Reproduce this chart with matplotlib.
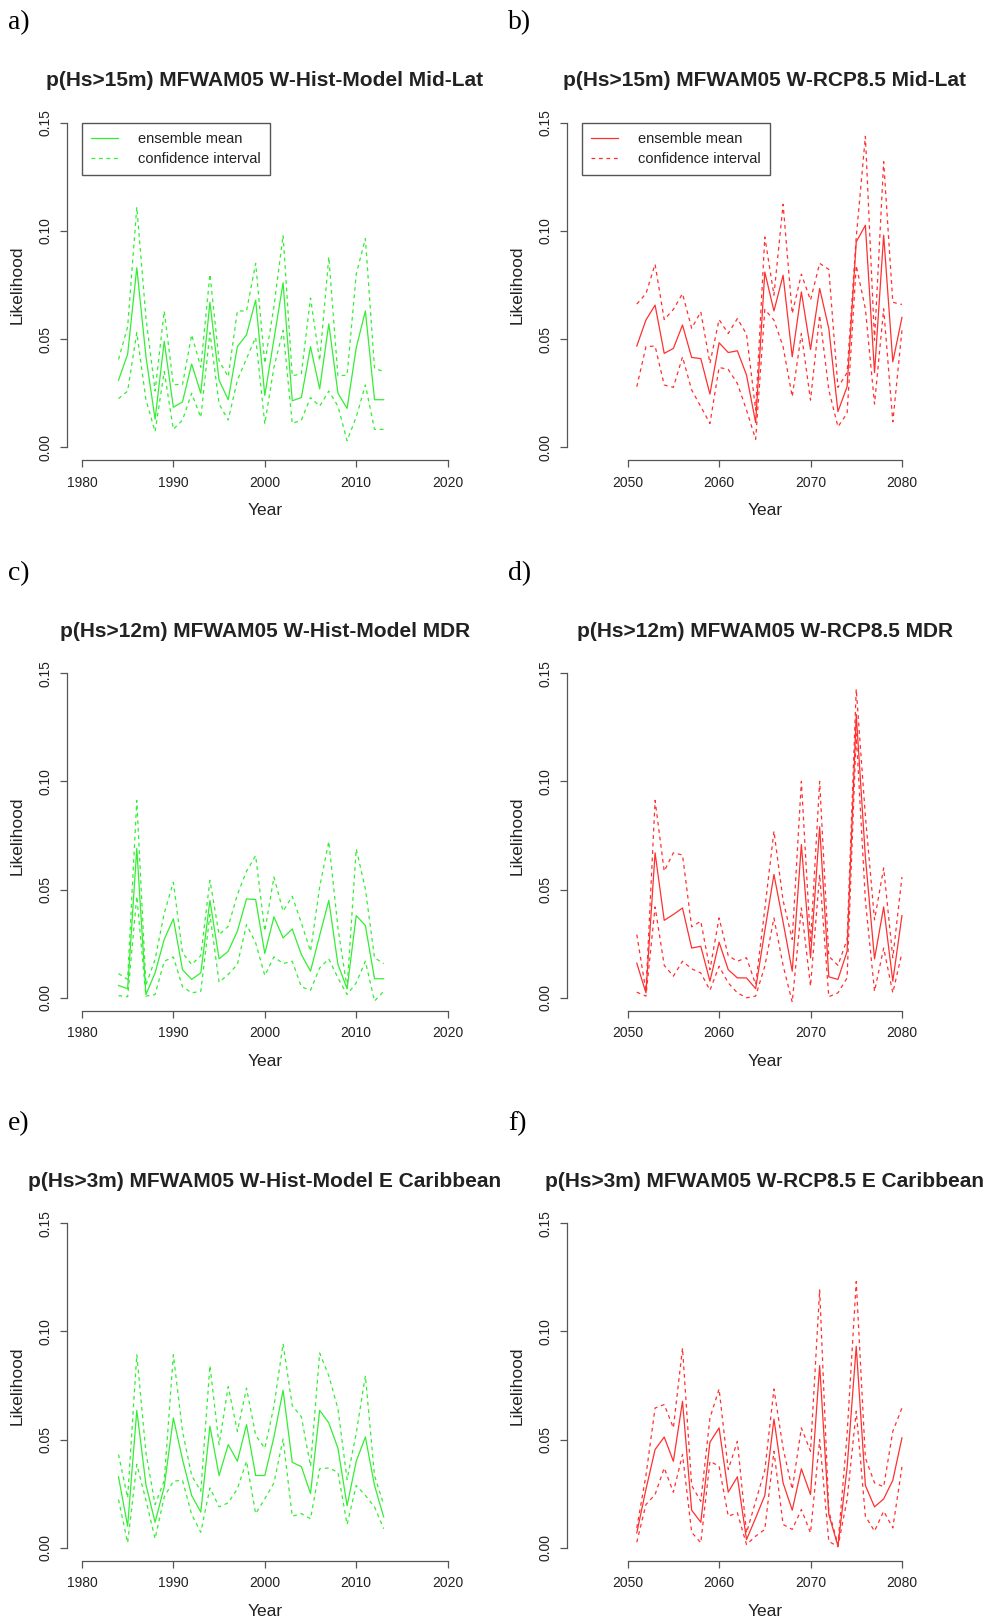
import matplotlib
matplotlib.use("Agg")
import matplotlib.pyplot as plt

plt.rcParams["font.family"] = ["Liberation Sans", "DejaVu Sans"]

# years on the x axis
years_hist = list(range(1984, 2014))
years_rcp = list(range(2051, 2081))

# a) Hs>15m, historical, Mid-Lat
mean_a = [0.031, 0.043, 0.083, 0.042, 0.013, 0.049, 0.0185, 0.021, 0.0385, 0.025,
          0.067, 0.031, 0.022, 0.0465, 0.052, 0.068, 0.024, 0.050, 0.076, 0.0215,
          0.023, 0.0465, 0.027, 0.057, 0.025, 0.018, 0.046, 0.063, 0.022, 0.022]
upper_a = [0.0406, 0.0557, 0.111, 0.060, 0.026, 0.063, 0.029, 0.029, 0.052, 0.037,
           0.080, 0.040, 0.0326, 0.063, 0.063, 0.085, 0.0388, 0.065, 0.098, 0.033,
           0.034, 0.069, 0.040, 0.088, 0.033, 0.0334, 0.080, 0.0965, 0.0365, 0.035]
lower_a = [0.0225, 0.026, 0.053, 0.022, 0.0072, 0.035, 0.0083, 0.0126, 0.025, 0.0138,
           0.053, 0.020, 0.0126, 0.031, 0.041, 0.0508, 0.0108, 0.037, 0.054, 0.011,
           0.0126, 0.023, 0.019, 0.026, 0.019, 0.003, 0.014, 0.0288, 0.0083, 0.0083]

# b) Hs>15m, RCP8.5, Mid-Lat
mean_b = [0.0468, 0.0588, 0.0657, 0.0434, 0.0457, 0.0565, 0.0415, 0.041, 0.0246, 0.0483,
          0.0438, 0.0446, 0.0334, 0.0114, 0.081, 0.063, 0.0795, 0.0418, 0.0718, 0.0452,
          0.0734, 0.0549, 0.0165, 0.028, 0.0949, 0.1026, 0.0345, 0.098, 0.0395, 0.060]
upper_b = [0.0662, 0.071, 0.0846, 0.059, 0.0637, 0.071, 0.055, 0.0626, 0.0388, 0.059,
           0.0526, 0.0595, 0.0523, 0.0172, 0.0972, 0.0703, 0.1123, 0.0618, 0.080, 0.068,
           0.085, 0.0822, 0.0277, 0.0345, 0.097, 0.1437, 0.0495, 0.132, 0.067, 0.066]
lower_b = [0.028, 0.0465, 0.0468, 0.0288, 0.0277, 0.0418, 0.0265, 0.0188, 0.011, 0.0369,
           0.036, 0.0295, 0.0172, 0.0037, 0.0637, 0.0588, 0.0465, 0.0234, 0.0526, 0.0218,
           0.061, 0.0265, 0.0095, 0.0157, 0.084, 0.064, 0.020, 0.064, 0.0118, 0.054]

# c) Hs>12m, historical, MDR
mean_c = [0.0057, 0.0042, 0.069, 0.0015, 0.0115, 0.027, 0.0365, 0.013, 0.0085, 0.0115,
          0.045, 0.018, 0.0215, 0.0308, 0.0457, 0.0454, 0.0205, 0.0374, 0.0277, 0.0318,
          0.020, 0.0123, 0.0288, 0.045, 0.0154, 0.0042, 0.038, 0.0334, 0.0088, 0.0088]
upper_c = [0.0112, 0.0085, 0.0912, 0.006, 0.0177, 0.039, 0.0534, 0.0208, 0.0154, 0.0195,
           0.0543, 0.0292, 0.033, 0.0477, 0.0585, 0.0657, 0.0308, 0.0558, 0.040, 0.0469,
           0.0346, 0.0215, 0.0512, 0.0723, 0.0323, 0.0046, 0.0688, 0.0503, 0.0185, 0.0158]
lower_c = [0.001, 0.0005, 0.0469, 0.0008, 0.0015, 0.0169, 0.0189, 0.0051, 0.0023, 0.003,
           0.0385, 0.0072, 0.0108, 0.0154, 0.0338, 0.0254, 0.0103, 0.0189, 0.0158, 0.0169,
           0.0051, 0.0035, 0.0138, 0.018, 0.0092, 0.0015, 0.0069, 0.0169, -0.0015, 0.003]

# d) Hs>12m, RCP8.5, MDR
mean_d = [0.016, 0.0023, 0.067, 0.0358, 0.0385, 0.0415, 0.023, 0.0238, 0.0077, 0.0257,
          0.013, 0.0092, 0.0092, 0.0042, 0.031, 0.057, 0.035, 0.0123, 0.0708, 0.0185,
          0.079, 0.0097, 0.0085, 0.0215, 0.131, 0.065, 0.018, 0.042, 0.0077, 0.038]
upper_d = [0.0292, 0.003, 0.0912, 0.0585, 0.067, 0.066, 0.0328, 0.0354, 0.013, 0.0369,
           0.0195, 0.0169, 0.0185, 0.0062, 0.041, 0.077, 0.045, 0.027, 0.100, 0.0254,
           0.100, 0.0192, 0.015, 0.027, 0.1426, 0.084, 0.036, 0.060, 0.0185, 0.0558]
lower_d = [0.0026, 0.0008, 0.042, 0.015, 0.010, 0.0169, 0.0134, 0.0115, 0.0035, 0.0146,
           0.0069, 0.0023, 0.0, 0.0008, 0.0146, 0.0369, 0.015, -0.002, 0.0415, 0.0054,
           0.057, 0.0005, 0.0023, 0.0092, 0.122, 0.045, 0.003, 0.023, 0.0023, 0.0208]

# e) Hs>3m, historical, E Caribbean
mean_e = [0.0328, 0.010, 0.0635, 0.0292, 0.0118, 0.0282, 0.060, 0.0408, 0.0242, 0.0165,
          0.0562, 0.0334, 0.0477, 0.040, 0.0569, 0.0334, 0.0334, 0.0512, 0.0728, 0.0395,
          0.0375, 0.0251, 0.0635, 0.0577, 0.046, 0.0195, 0.040, 0.0512, 0.0288, 0.0143]
upper_e = [0.0431, 0.0231, 0.0892, 0.044, 0.020, 0.031, 0.0892, 0.0538, 0.0334, 0.0262,
           0.0842, 0.0477, 0.0745, 0.0538, 0.0738, 0.052, 0.046, 0.0654, 0.0943, 0.0657,
           0.0605, 0.0377, 0.090, 0.0795, 0.0642, 0.0315, 0.053, 0.0795, 0.0334, 0.020]
lower_e = [0.0223, 0.0023, 0.0385, 0.022, 0.0042, 0.0235, 0.0308, 0.0312, 0.0154, 0.0072,
           0.0277, 0.0189, 0.0208, 0.0272, 0.040, 0.0158, 0.0226, 0.030, 0.0503, 0.0146,
           0.0158, 0.0134, 0.0365, 0.0369, 0.0349, 0.0108, 0.0288, 0.0242, 0.0189, 0.0088]

# f) Hs>3m, RCP8.5, E Caribbean
mean_f = [0.0069, 0.027, 0.0454, 0.0512, 0.040, 0.0677, 0.0174, 0.0118, 0.0488, 0.0554,
          0.0257, 0.0328, 0.0038, 0.0138, 0.0242, 0.0595, 0.030, 0.0174, 0.0365, 0.0246,
          0.0842, 0.0154, 0.0008, 0.037, 0.0931, 0.0288, 0.0189, 0.0226, 0.0312, 0.0508]
upper_f = [0.0092, 0.0334, 0.0646, 0.0662, 0.0554, 0.0923, 0.0288, 0.0215, 0.060, 0.0734,
           0.0362, 0.0492, 0.0069, 0.0215, 0.0358, 0.0734, 0.046, 0.027, 0.0554, 0.0446,
           0.1192, 0.0169, 0.0015, 0.0525, 0.123, 0.0415, 0.030, 0.0282, 0.0538, 0.0646]
lower_f = [0.0026, 0.020, 0.0246, 0.0369, 0.0257, 0.0431, 0.0072, 0.0023, 0.040, 0.0377,
           0.0146, 0.0162, 0.0015, 0.0054, 0.0085, 0.0446, 0.0108, 0.0085, 0.0177, 0.0069,
           0.050, 0.003, 0.0005, 0.0223, 0.0631, 0.0146, 0.0077, 0.0169, 0.0092, 0.0374]

titles = ["p(Hs>15m) MFWAM05 W-Hist-Model Mid-Lat", "p(Hs>15m) MFWAM05 W-RCP8.5 Mid-Lat",
          "p(Hs>12m) MFWAM05 W-Hist-Model MDR", "p(Hs>12m) MFWAM05 W-RCP8.5 MDR",
          "p(Hs>3m) MFWAM05 W-Hist-Model E Caribbean", "p(Hs>3m) MFWAM05 W-RCP8.5 E Caribbean"]
panel_labels = ["a)", "b)", "c)", "d)", "e)", "f)"]
hist_ticks = [1980, 1990, 2000, 2010, 2020]
rcp_ticks = [2050, 2060, 2070, 2080]
y_ticks = [0.00, 0.05, 0.10, 0.15]

panels = [
    (years_hist, mean_a, upper_a, lower_a),
    (years_rcp, mean_b, upper_b, lower_b),
    (years_hist, mean_c, upper_c, lower_c),
    (years_rcp, mean_d, upper_d, lower_d),
    (years_hist, mean_e, upper_e, lower_e),
    (years_rcp, mean_f, upper_f, lower_f),
]

W, H = 993, 1620
fig = plt.figure(figsize=(W / 100, H / 100), dpi=100)
fig.patch.set_facecolor("white")

col_left = [67.3, 567.3]
row_top = [109.7, 660.2, 1210.2]
ax_w, ax_h = 395, 350.6
axis_col = "#555555"
text_col = "#222222"

for i, (yrs, mean, upper, lower) in enumerate(panels):
    r, c = divmod(i, 2)
    left, top = col_left[c], row_top[r]
    ax = fig.add_axes([left / W, 1 - (top + ax_h) / H, ax_w / W, ax_h / H])

    col = "#33ee33" if c == 0 else "#ff3030"
    ax.plot(yrs, mean, color=col, lw=0.9, label="ensemble mean")
    ax.plot(yrs, upper, color=col, lw=0.9, ls=(0, (3, 3)), label="confidence interval")
    ax.plot(yrs, lower, color=col, lw=0.9, ls=(0, (3, 3)))

    # R style: limits padded by 4 %, axes only span the ticks
    lo, hi = (1980, 2020) if c == 0 else (2045, 2085)
    pad = 0.04 * (hi - lo)
    ax.set_xlim(lo - pad, hi + pad)
    ax.set_ylim(-0.006, 0.156)
    ticks = hist_ticks if c == 0 else rcp_ticks
    ax.set_xticks(ticks)
    ax.set_xticklabels([str(t) for t in ticks])
    ax.set_yticks(y_ticks)
    ax.set_yticklabels(["0.00", "0.05", "0.10", "0.15"], rotation=90, va="center")

    for s in ["top", "right"]:
        ax.spines[s].set_visible(False)
    ax.spines["bottom"].set_bounds(ticks[0], ticks[-1])
    ax.spines["left"].set_bounds(0, 0.15)
    for s in ["bottom", "left"]:
        ax.spines[s].set_color(axis_col)
        ax.spines[s].set_linewidth(0.9)
    ax.tick_params(direction="out", length=5, width=0.9, color=axis_col,
                   labelsize=10, labelcolor=text_col, pad=6)

    ax.set_xlabel("Year", fontsize=12.5, color=text_col, labelpad=10)
    ax.set_ylabel("Likelihood", fontsize=12.5, color=text_col, labelpad=10)

    cx = (left + left + ax_w) / W / 2
    fig.text(cx, 1 - (top - 29) / H, titles[i], ha="center", va="center",
             fontsize=15, fontweight="bold", color=text_col)
    fig.text((8 + 500 * c) / W, 1 - (top - 87) / H, panel_labels[i], ha="left", va="center",
             fontsize=20, family=["Liberation Serif", "DejaVu Serif"], color="black")

    if r == 0:
        ax.legend(loc="upper left", bbox_to_anchor=((lo - (lo - pad)) / (hi - lo + 2 * pad), 0.156 / 0.162),
                  borderaxespad=0, fancybox=False, edgecolor=axis_col, fontsize=10.5,
                  handlelength=1.8, handletextpad=1.4, borderpad=0.65, labelspacing=0.4,
                  framealpha=1, labelcolor=text_col)

plt.savefig("out.png", dpi=100)
